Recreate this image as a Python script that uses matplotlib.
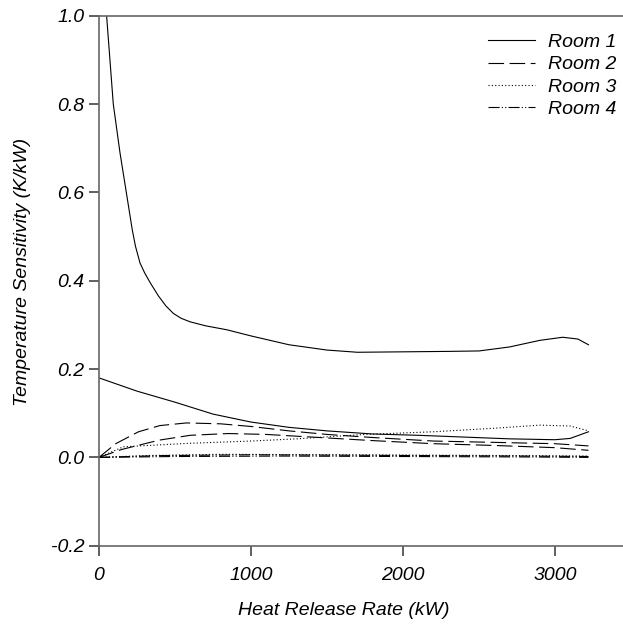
import matplotlib
matplotlib.use('Agg')
import matplotlib.pyplot as plt

plt.rcParams['font.family'] = ['Liberation Sans', 'DejaVu Sans']
plt.rcParams['font.style'] = 'italic'
plt.rcParams['axes.unicode_minus'] = False

# Room 1 (solid) - two curves
r1a_x = [10, 50, 94, 138, 182, 219, 240, 270, 300, 336, 390, 440, 489, 540, 599, 700,
         840, 1000, 1250, 1500, 1700, 2000, 2300, 2500, 2700, 2900, 3050, 3150, 3220]
r1a_y = [1.18, 1.0, 0.80, 0.69, 0.595, 0.515, 0.478, 0.44, 0.418, 0.396, 0.366, 0.343,
         0.326, 0.315, 0.307, 0.298, 0.289, 0.275, 0.255, 0.243, 0.238, 0.239, 0.240,
         0.241, 0.250, 0.265, 0.272, 0.268, 0.255]
r1b_x = [0, 250, 500, 750, 1000, 1250, 1500, 1800, 2100, 2400, 2700, 3000, 3100, 3220]
r1b_y = [0.18, 0.15, 0.125, 0.098, 0.080, 0.068, 0.060, 0.053, 0.050, 0.046, 0.042,
         0.040, 0.043, 0.058]

# Room 2 (dashed)
r2a_x = [0, 110, 260, 400, 575, 800, 1000, 1250, 1500, 1800, 2200, 2600, 3000, 3220]
r2a_y = [0, 0.031, 0.058, 0.072, 0.078, 0.076, 0.070, 0.060, 0.052, 0.045, 0.037,
         0.034, 0.031, 0.026]
r2b_x = [0, 150, 395, 600, 850, 1100, 1500, 1800, 2200, 2600, 3000, 3220]
r2b_y = [0, 0.018, 0.039, 0.050, 0.054, 0.052, 0.044, 0.038, 0.031, 0.027, 0.022, 0.016]

# Room 3 (dotted)
r3a_x = [0, 160, 600, 1000, 1300, 1750, 2200, 2600, 2900, 3100, 3220]
r3a_y = [0, 0.024, 0.032, 0.037, 0.042, 0.052, 0.058, 0.066, 0.073, 0.071, 0.060]
r3b_x = [0, 300, 800, 1500, 2200, 2800, 3220]
r3b_y = [0, 0.004, 0.007, 0.006, 0.005, 0.004, 0.003]

# Room 4 (dash-dot-dot)
r4a_x = [0, 400, 1000, 1600, 2200, 2800, 3220]
r4a_y = [0, 0.004, 0.006, 0.005, 0.004, 0.003, 0.002]
r4b_x = [0, 500, 1200, 2000, 2800, 3220]
r4b_y = [0, 0.002, 0.003, 0.002, 0.001, 0.0]

x_ticks = [0, 1000, 2000, 3000]
y_ticks = [-0.2, 0.0, 0.2, 0.4, 0.6, 0.8, 1.0]

fig = plt.figure(figsize=(6.23, 6.29), dpi=100)
ax = fig.add_axes([0.1589, 0.1324, 0.8411, 0.8426])

lw = 0.8
ax.plot(r1a_x, r1a_y, color='black', lw=lw, label='Room 1')
ax.plot(r1b_x, r1b_y, color='black', lw=lw)
ax.plot(r2a_x, r2a_y, color='black', lw=lw, dashes=(14, 5), label='Room 2')
ax.plot(r2b_x, r2b_y, color='black', lw=lw, dashes=(14, 5))
ax.plot(r3a_x, r3a_y, color='black', lw=lw, dashes=(1, 2), label='Room 3')
ax.plot(r3b_x, r3b_y, color='black', lw=lw, dashes=(1, 2))
ax.plot(r4a_x, r4a_y, color='black', lw=lw, dashes=(10, 2, 1, 2, 1, 2), label='Room 4')
ax.plot(r4b_x, r4b_y, color='black', lw=lw, dashes=(10, 2, 1, 2, 1, 2))

ax.set_xlim(0, 3447)
ax.set_ylim(-0.2, 1.0)
ax.set_xticks(x_ticks)
ax.set_xticklabels([str(v) for v in x_ticks])
ax.set_yticks(y_ticks)
ax.set_yticklabels(['%.1f' % v for v in y_ticks])

ax.spines['right'].set_visible(False)
for s in ['left', 'bottom', 'top']:
    ax.spines[s].set_color('#666666')
    ax.spines[s].set_linewidth(1.2)
ax.tick_params(axis='both', direction='out', length=7.5, width=1.2, color='#444444',
               labelsize=14)
ax.tick_params(axis='x', pad=8)
ax.tick_params(axis='y', pad=3)

ax.set_xlabel('Heat Release Rate (kW)', fontsize=14)
ax.set_ylabel('Temperature Sensitivity (K/kW)', fontsize=14)
ax.xaxis.set_label_coords(0.4676, -0.107)
ax.yaxis.set_label_coords(-0.13, 0.516)

ax.legend(loc='upper right', bbox_to_anchor=(1.02, 1.0), frameon=False, fontsize=14,
          handlelength=2.4, labelspacing=0.25, handletextpad=0.65)

plt.savefig('out.png', dpi=100)
